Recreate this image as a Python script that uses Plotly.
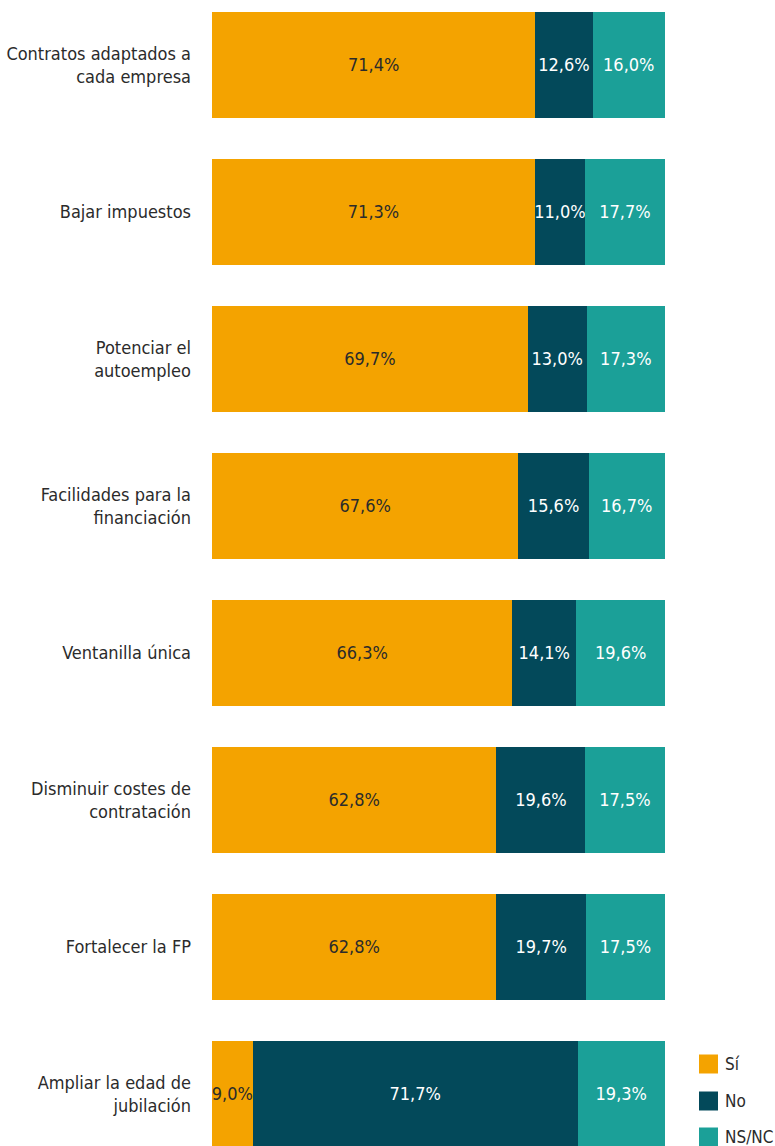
import plotly.graph_objects as go

categories = [
    "Contratos adaptados a<br>cada empresa",
    "Bajar impuestos",
    "Potenciar el<br>autoempleo",
    "Facilidades para la<br>financiación",
    "Ventanilla única",
    "Disminuir costes de<br>contratación",
    "Fortalecer la FP",
    "Ampliar la edad de<br>jubilación",
]
si = [71.4, 71.3, 69.7, 67.6, 66.3, 62.8, 62.8, 9.0]
no = [12.6, 11.0, 13.0, 15.6, 14.1, 19.6, 19.7, 71.7]
nsnc = [16.0, 17.7, 17.3, 16.7, 19.6, 17.5, 17.5, 19.3]
series_names = ["Sí", "No", "NS/NC"]
colors = ["#F4A300", "#03495A", "#1BA098"]
text_colors = ["#2b2b2b", "#ffffff", "#ffffff"]

FONT = "DejaVu Sans Condensed, Roboto, sans-serif"

def fmt(v):
    return f"{v:.1f}%".replace(".", ",")

fig = go.Figure()
for name, vals, c, tc in zip(series_names, [si, no, nsnc], colors, text_colors):
    fig.add_trace(go.Bar(
        y=categories, x=vals, name=name, orientation="h",
        marker=dict(color=c, line=dict(width=0)),
        text=[fmt(v) for v in vals], textposition="inside",
        insidetextanchor="middle", constraintext="none", textangle=0,
        textfont=dict(color=tc, size=18, family=FONT),
        hoverinfo="skip", showlegend=False,
    ))

# manual legend
leg_y = [1064, 1101, 1137]
H = 1146
for name, c, yc in zip(series_names, colors, leg_y):
    fig.add_shape(type="rect", xref="paper", yref="paper",
                  x0=(699 - 212) / 453, x1=(718 - 212) / 453,
                  y0=(H - yc - 9.5) / H, y1=(H - yc + 9.5) / H,
                  fillcolor=c, line=dict(width=0))
    fig.add_annotation(xref="paper", yref="paper",
                       x=(723 - 212) / 453, y=(H - yc) / H,
                       text=name, showarrow=False, xanchor="left", yanchor="middle",
                       font=dict(size=17, color="#2b2b2b", family=FONT))

fig.update_layout(
    barmode="stack", bargap=0.279,
    width=775, height=1146,
    margin=dict(l=212, r=110, t=0, b=0),
    plot_bgcolor="white", paper_bgcolor="white",
    font=dict(family=FONT, size=18, color="#2b2b2b"),
    xaxis=dict(range=[0, 100], visible=False, fixedrange=True),
    yaxis=dict(categoryorder="array", categoryarray=categories,
               range=[7.354, -0.442], showgrid=False, zeroline=False,
               showline=False, ticks="", ticklabelstandoff=20,
               tickfont=dict(size=18, family=FONT, color="#2b2b2b")),
)

fig.write_html("out.html", config={"displayModeBar": False},
               post_script="document.body.style.margin='0';document.body.style.overflow='hidden';")
